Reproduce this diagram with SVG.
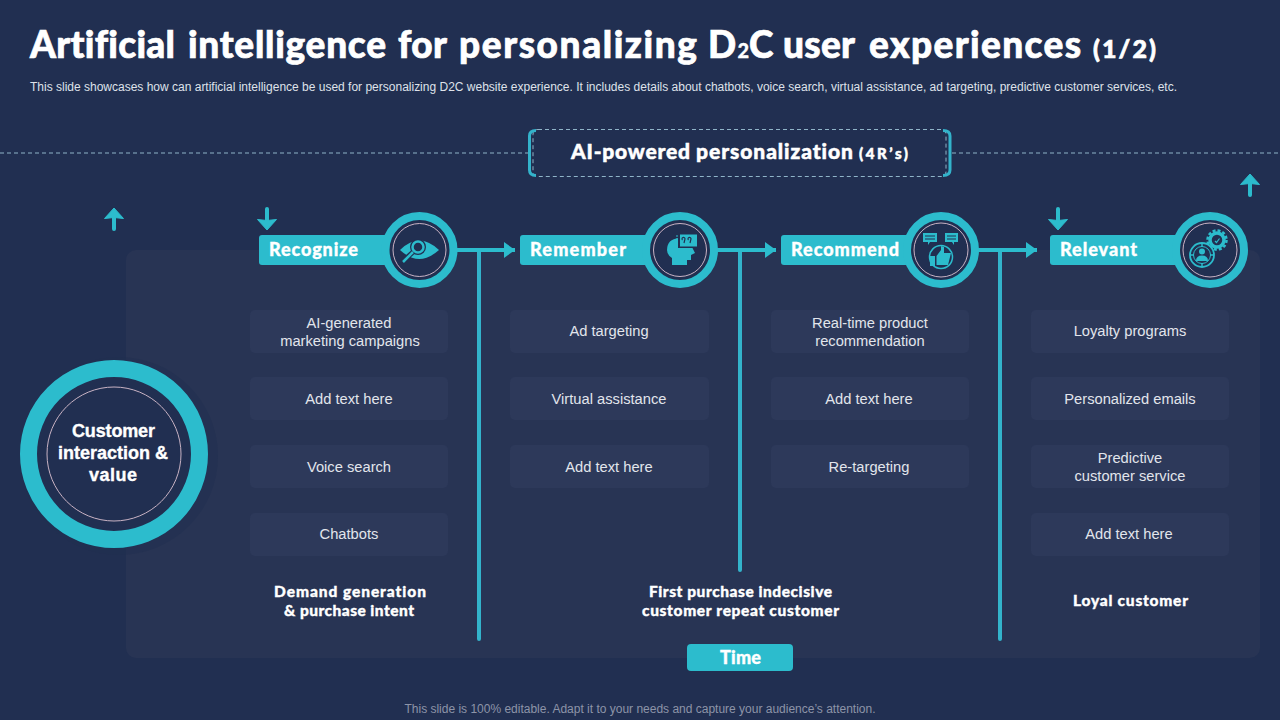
<svg xmlns="http://www.w3.org/2000/svg" width="1280" height="720" viewBox="0 0 1280 720">
<style>
text{font-family:"Liberation Sans",Arial,sans-serif;fill:#fff}
.h{font-family:Lato,"Liberation Sans",sans-serif;font-weight:900;stroke:#fff;stroke-width:.35px;font-variant-ligatures:none}
.card{fill:#2d395a}
.ct{font-size:14.7px;fill:#e2e5ec;text-anchor:middle}
.tab{fill:#2cbccd}
.tabt{font-size:18px}
.bt{font-size:15.500px;text-anchor:middle}
.outer{fill:#212f51;stroke:#2cbccd;stroke-width:8}
.thin{fill:none;stroke:#c9b3c4;stroke-width:1}
.ln{fill:none;stroke:#2cbccd;stroke-width:4}
.v{fill:none;stroke:#33b3cb;stroke-width:4;stroke-linecap:round}
.ic{fill:#2cbccd}
.icl{fill:none;stroke:#2cbccd}
.dk{fill:none;stroke:#212f51}
.dash{fill:none;stroke:#8fb4c8;stroke-width:1;stroke-dasharray:4 3}
.ar{fill:none;stroke:#2cbccd;stroke-width:4;stroke-linecap:round}
</style>
<defs>
<marker id="ah" markerUnits="userSpaceOnUse" markerWidth="12" markerHeight="16" refX="11" refY="8" orient="auto"><path d="M0 0L11 8L0 16Z" fill="#2cbccd"/></marker>
<g id="up"><path d="M0 21V5" class="ar"/><path d="M-9.500 10.500L0 0L9.500 10.500L0 9.500Z" fill="#2cbccd" stroke="#2cbccd" stroke-linejoin="round"/></g>
<g id="down"><path d="M0 0V16" class="ar"/><path d="M-9.500 10.500L0 21L9.500 10.500L0 11.500Z" fill="#2cbccd" stroke="#2cbccd" stroke-linejoin="round"/></g>
</defs>
<rect width="1280" height="720" fill="#212f51"/>
<rect id="panel" x="126" y="250" width="1134" height="408" rx="10" fill="#283454"/>

<g id="header">
<text class="h" y="58" font-size="37" style="stroke-width:.7px"><tspan x="30" textLength="145">Artificial</tspan><tspan x="188" textLength="198">intelligence</tspan><tspan x="398" textLength="49">for</tspan><tspan x="459" textLength="238">personalizing</tspan><tspan x="708">D</tspan><tspan x="737.500" font-size="20" style="stroke-width:.3px">2</tspan><tspan x="749">C</tspan><tspan x="783" textLength="72">user</tspan><tspan x="869" textLength="212">experiences</tspan><tspan x="1093" textLength="63" font-size="25">(1/2)</tspan></text>
<text x="30" y="91" font-size="12" style="fill:#dfe2ea" textLength="1147" lengthAdjust="spacing">This slide showcases how can artificial intelligence be used for personalizing D2C website experience. It includes details about chatbots, voice search, virtual assistance, ad targeting, predictive customer services, etc.</text>
</g>

<g id="connectors">
<path class="dash" d="M0 153H528M952 153H1280"/>
<path class="v" d="M479 250V639M740 250V570M1000 250V639"/>
<path class="ln" d="M457 250H515" marker-end="url(#ah)"/>
<path class="ln" d="M717 250H776" marker-end="url(#ah)"/>
<path class="ln" d="M978 250H1037" marker-end="url(#ah)"/>
<use href="#up" x="114" y="208"/>
<use href="#down" x="267" y="209"/>
<use href="#down" x="1058" y="209"/>
<use href="#up" x="1250" y="174"/>
</g>

<g id="title-box">
<path d="M538 129.500H941Q946 129.500 946 134.500V171.500Q946 176.500 941 176.500H538Q533 176.500 533 171.500V134.500Q533 129.500 538 129.500" class="dash"/>
<path d="M536 130.500Q529.500 130.500 529.500 136V170Q529.500 175.500 536 175.500M943 130.500Q950 130.500 950 136V170Q950 175.500 943 175.500" fill="none" stroke="#33b3cb" stroke-width="3"/>
<text class="h" y="159" font-size="21" style="stroke-width:.5px"><tspan x="571" textLength="119">AI-powered</tspan><tspan x="696" textLength="157">personalization</tspan><tspan x="859" textLength="49" font-size="15">(4R’s)</tspan></text>
</g>

<g id="hub">
<circle cx="119" cy="456" r="99" fill="#212f51" opacity=".55"/>
<circle cx="114" cy="454" r="85.500" fill="#212f51" stroke="#2cbccd" stroke-width="17"/>
<circle class="thin" cx="114" cy="454" r="67"/>
<g class="h" font-size="18" text-anchor="middle"><text x="113.500" y="437" textLength="83">Customer</text><text x="113" y="459" textLength="110">interaction &amp;</text><text x="113" y="481" textLength="48">value</text></g>
</g>

<g id="recognize">
<rect class="tab" x="259" y="235" width="130" height="30" rx="3"/>
<text class="h tabt" x="269" y="256" textLength="89">Recognize</text>
<circle class="outer" cx="419.500" cy="250" r="34"/><circle class="thin" cx="419.500" cy="250" r="26.500"/>
<path class="ic" d="M400 250Q419 231 439 250Q419 268 400 250Z"/>
<circle cx="418" cy="247" r="8" fill="#212f51"/>
<circle class="icl" cx="418" cy="247" r="5.500" stroke-width="2.500"/>
<path class="dk" d="M413 252L401 263" stroke-width="5"/>
<path class="icl" d="M413 252L403 262" stroke-width="2.500"/>
</g>

<g id="remember">
<rect class="tab" x="520" y="235" width="130" height="30" rx="3"/>
<text class="h tabt" x="530" y="256" textLength="96">Remember</text>
<circle class="outer" cx="680" cy="250" r="34"/><circle class="thin" cx="680" cy="250" r="26.500"/>
<path class="ic" d="M679 238Q667 239 667 250Q667 255 672 258V265H687V260H691V255L695 253L692 247V246H679Z"/>
<rect x="678" y="233" width="20" height="15" fill="#212f51"/>
<rect class="ic" x="680" y="234.500" width="17" height="12"/>
<path d="M676 236h2M676 239h2M676 242h2M676 245h2" stroke="#2cbccd"/>
<path class="dk" d="M684 243l1-4a1.500 1.500 0 1 0-2.500 1M690 243l1-4a1.500 1.500 0 1 0-2.500 1" stroke-width="1.200"/>
</g>

<g id="recommend">
<rect class="tab" x="781" y="235" width="130" height="30" rx="3"/>
<text class="h tabt" x="791" y="256" textLength="108">Recommend</text>
<circle class="outer" cx="941" cy="250" r="34"/><circle class="thin" cx="941" cy="250" r="27"/>
<path class="ic" d="M923 233h14v9h-7l-2 3v-3h-5ZM945 233h13v9h-4v3l-2-3h-7Z"/>
<path d="M925 236h10M925 239h10M947 236h9M947 239h9" stroke="#212f51" stroke-width="1"/>
<circle class="icl" cx="941" cy="257" r="11.500" stroke-width="1.500"/>
<path class="ic" d="M930 256h5v10h-5ZM936.500 256L941 250V246L944 247V253H951L948 265H936.500Z"/>
</g>

<g id="relevant">
<rect class="tab" x="1050" y="235" width="130" height="30" rx="3"/>
<text class="h tabt" x="1060" y="256" textLength="77">Relevant</text>
<circle class="outer" cx="1210" cy="250" r="34"/><circle class="thin" cx="1210" cy="250" r="27"/>
<circle cx="1217" cy="240" r="7" fill="none" stroke="#2cbccd" stroke-width="3.500"/>
<circle cx="1217" cy="240" r="9.500" fill="none" stroke="#2cbccd" stroke-width="2.500" stroke-dasharray="3 2"/>
<path class="icl" d="M1215 241l1.500 1.500l3-4" stroke-width="1.200"/>
<circle cx="1202" cy="255" r="12" fill="#212f51" stroke="#2cbccd" stroke-width="1.800"/>
<circle cx="1202" cy="255" r="8.500" class="icl" stroke-width="1"/>
<path d="M1202 243v4M1202 263v4M1190 255h4M1210 255h4" stroke="#2cbccd" stroke-width="1.500"/>
<circle class="ic" cx="1202" cy="251.500" r="3"/>
<path class="ic" d="M1196 261Q1196 255.500 1202 255.500Q1208 255.500 1208 261Z"/>
</g>

<g id="col1">
<rect class="card" x="250" y="310" width="198" height="43" rx="5"/><text class="ct" x="349" y="328">AI-generated</text><text class="ct" x="350" y="346">marketing campaigns</text>
<rect class="card" x="250" y="377" width="198" height="43" rx="5"/><text class="ct" x="349" y="404">Add text here</text>
<rect class="card" x="250" y="445" width="198" height="43" rx="5"/><text class="ct" x="349" y="472">Voice search</text>
<rect class="card" x="250" y="513" width="198" height="43" rx="5"/><text class="ct" x="349" y="539">Chatbots</text>
<text class="h bt" x="350" y="597" textLength="152">Demand generation</text><text class="h bt" x="349" y="616" textLength="130">&amp; purchase intent</text>
</g>
<g id="col2">
<rect class="card" x="510" y="310" width="199" height="43" rx="5"/><text class="ct" x="609" y="336">Ad targeting</text>
<rect class="card" x="510" y="377" width="199" height="43" rx="5"/><text class="ct" x="609" y="404">Virtual assistance</text>
<rect class="card" x="510" y="445" width="199" height="43" rx="5"/><text class="ct" x="609" y="472">Add text here</text>
<text class="h bt" x="740.500" y="597" textLength="183">First purchase indecisive</text><text class="h bt" x="740.500" y="616" textLength="197">customer repeat customer</text>
</g>
<g id="col3">
<rect class="card" x="771" y="310" width="198" height="43" rx="5"/><text class="ct" x="870" y="328">Real-time product</text><text class="ct" x="870" y="346">recommendation</text>
<rect class="card" x="771" y="377" width="198" height="43" rx="5"/><text class="ct" x="869" y="404">Add text here</text>
<rect class="card" x="771" y="445" width="198" height="43" rx="5"/><text class="ct" x="869" y="472">Re-targeting</text>
</g>
<g id="col4">
<rect class="card" x="1031" y="310" width="198" height="43" rx="5"/><text class="ct" x="1130" y="336">Loyalty programs</text>
<rect class="card" x="1031" y="377" width="198" height="43" rx="5"/><text class="ct" x="1130" y="404">Personalized emails</text>
<rect class="card" x="1031" y="445" width="198" height="43" rx="5"/><text class="ct" x="1130" y="463">Predictive</text><text class="ct" x="1130" y="481">customer service</text>
<rect class="card" x="1031" y="513" width="198" height="43" rx="5"/><text class="ct" x="1129" y="539">Add text here</text>
<text class="h bt" x="1130.500" y="606" textLength="115">Loyal customer</text>
</g>

<g id="time">
<rect class="tab" x="687" y="644" width="106" height="27" rx="4"/>
<text class="h" x="740.500" y="664" font-size="18" text-anchor="middle" textLength="41">Time</text>
</g>
<text id="footer" x="640" y="713" font-size="12" style="fill:#8d94a8" text-anchor="middle" textLength="471">This slide is 100% editable. Adapt it to your needs and capture your audience’s attention.</text>
</svg>
